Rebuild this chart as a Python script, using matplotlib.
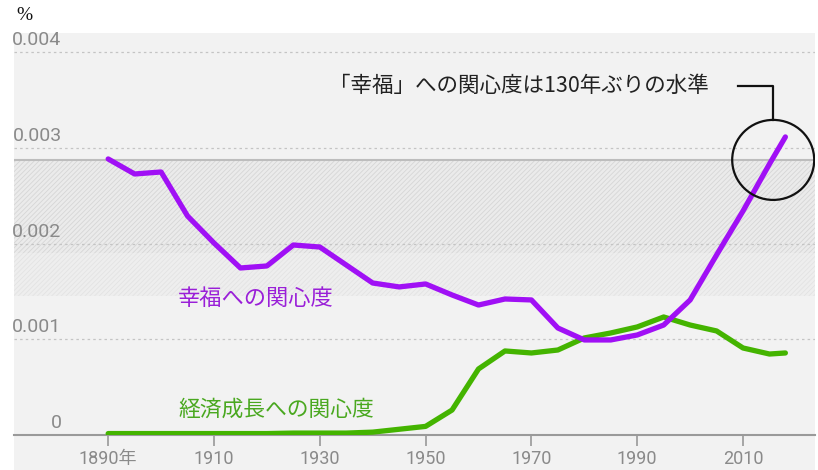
import matplotlib
matplotlib.use("Agg")
import matplotlib.pyplot as plt
from matplotlib.patches import Ellipse, Rectangle

plt.rcParams['font.family'] = ['Roboto', 'Noto Sans CJK JP', 'DejaVu Sans']
plt.rcParams['hatch.linewidth'] = 0.6

years = [1890, 1895, 1900, 1905, 1910, 1915, 1920, 1925, 1930, 1935, 1940, 1945,
         1950, 1955, 1960, 1965, 1970, 1975, 1980, 1985, 1990, 1995, 2000, 2005,
         2010, 2015, 2018]
happiness = [2.884, 2.727, 2.748, 2.288, 2.006, 1.745, 1.766, 1.985, 1.964, 1.776,
             1.588, 1.547, 1.578, 1.463, 1.358, 1.421, 1.411, 1.118, 0.993, 0.993,
             1.045, 1.149, 1.411, 1.881, 2.341, 2.832, 3.114]
growth = [0.015, 0.015, 0.015, 0.015, 0.015, 0.015, 0.015, 0.02, 0.02, 0.02,
          0.03, 0.06, 0.09, 0.261, 0.690, 0.878, 0.857, 0.888, 1.014, 1.066,
          1.129, 1.233, 1.149, 1.087, 0.909, 0.846, 0.857]
happiness = [v / 1000 for v in happiness]
growth = [v / 1000 for v in growth]

yticks = [0, 0.001, 0.002, 0.003, 0.004]
ytick_labels = ['0', '0.001', '0.002', '0.003', '0.004']
xticks = [1890, 1910, 1930, 1950, 1970, 1990, 2010]
xtick_labels = ['1890年', '1910', '1930', '1950', '1970', '1990', '2010']

W, H = 818, 470
fig = plt.figure(figsize=(W / 100, H / 100), dpi=100)
fig.patch.set_facecolor('white')

# gray panel background (extends below axis)
bg = Rectangle((14 / W, 0), (815 - 14) / W, (470 - 33) / H,
               transform=fig.transFigure, facecolor='#f2f2f2',
               edgecolor='none', zorder=-5)
fig.patches.append(bg)

ax = fig.add_axes([14 / W, (470 - 435) / H, (815 - 14) / W, (435 - 33) / H])
ax.set_zorder(1)
ax.set_facecolor('none')
ax.patch.set_alpha(0)
ax.set_xlim(1872.2, 2023.6)
ax.set_ylim(0, 0.0042)

# hatched band
band_top = 0.00287
ax.fill_between([1872.2, 2023.6], 0.0019, band_top, facecolor='#ebebeb',
                hatch='///////', edgecolor='#d6d6d6', linewidth=0, zorder=1)
ax.fill_between([1872.2, 2023.6], 0.00145, 0.0019, facecolor='#eeeeee',
                hatch='///////', edgecolor='#e3e3e3', linewidth=0, zorder=1)
ax.axhline(band_top, color='#bdbdbd', lw=1.5, zorder=2)

# gridlines
for yv in yticks[1:]:
    ax.axhline(yv, color='#c4c4c4', lw=0.9, ls=(0, (2, 2.5)), zorder=2)

# y tick labels inside
for yv, lab in zip(yticks, ytick_labels):
    ax.text(1881.2, yv + 0.00003, lab, ha='right', va='bottom', fontsize=14,
            color='#8a8a8a', zorder=3)

ax.set_yticks([])
ax.set_xticks(xticks)
ax.set_xticklabels(xtick_labels, fontsize=13, color='#8a8a8a')
ax.tick_params(axis='x', direction='out', length=8, width=1.2, color='#999999', pad=3)
for s in ['top', 'right', 'left']:
    ax.spines[s].set_visible(False)
ax.spines['bottom'].set_color('#9a9a9a')
ax.spines['bottom'].set_linewidth(1.5)

ax.plot(years, growth, color='#44b400', lw=3.8, solid_capstyle='round',
        solid_joinstyle='round', zorder=4)
ax.plot(years, happiness, color='#a010f5', lw=3.8, solid_capstyle='round',
        solid_joinstyle='round', zorder=5)

ax.text(1903.2, 0.00143, '幸福への関心度', color='#9a20d8', fontsize=16,
        ha='left', va='center', family=['Noto Sans CJK JP'], zorder=6)
ax.text(1903.2, 0.00026, '経済成長への関心度', color='#4aa820', fontsize=15.7,
        ha='left', va='center', family=['Noto Sans CJK JP'], zorder=6)

# annotation
ax.text(2003.6, 0.00365, '「幸福」への関心度は130年ぶりの水準', color='#222222',
        fontsize=15.5, ha='right', va='center', family=['Noto Sans CJK JP'], zorder=6)
ax.add_patch(Ellipse((2015.7, 0.002874), 15.5, 0.000836, facecolor='none',
                     edgecolor='#111111', lw=1.6, zorder=6))
ax.plot([2009.1, 2015.7, 2015.7], [0.00365, 0.00365, 0.00329],
        color='#111111', lw=1.6, zorder=6, clip_on=False)

fig.text(16 / W, 1 - 15 / H, '%', fontsize=14, family=['Liberation Serif'],
         ha='left', va='center', color='#111111')

fig.savefig('out.png', dpi=100)
